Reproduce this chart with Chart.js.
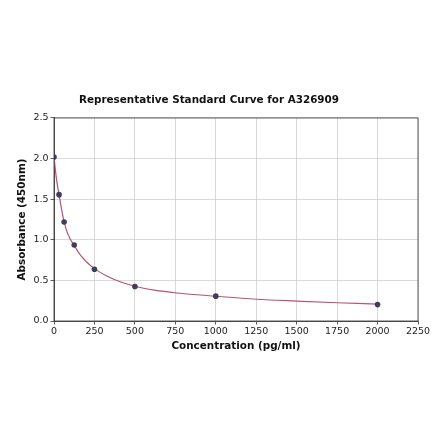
<!DOCTYPE html>
<html><head><meta charset="utf-8">
<script src="https://cdn.jsdelivr.net/npm/chart.js@4"></script>
<style>html,body{margin:0;padding:0;background:#fff}#wrap{width:440px;height:441px}</style>
</head><body><div id="wrap"><canvas id="c"></canvas></div>
<script>
const concentrations = [0, 31.25, 62.5, 125, 250, 500, 1000, 2000];
const absorbance = [2.02, 1.556, 1.22, 0.935, 0.637, 0.424, 0.306, 0.202];
const curveX = [0, 8, 16, 24, 31.25, 42, 52, 62.5, 80, 100, 125, 160, 200, 250, 320, 400, 500, 620, 760, 1000, 1250, 1500, 1750, 2000];
const curveY = [2.02, 1.87, 1.74, 1.64, 1.556, 1.43, 1.32, 1.225, 1.10, 1.01, 0.93, 0.82, 0.73, 0.645, 0.56, 0.49, 0.428, 0.38, 0.345, 0.305, 0.268, 0.245, 0.225, 0.208];
const xTicks = [0, 250, 500, 750, 1000, 1250, 1500, 1750, 2000, 2250];
const yTicks = [0.0, 0.5, 1.0, 1.5, 2.0, 2.5];

const frame = {
  id: 'frame',
  afterDatasetsDraw(chart) {
    const a = chart.chartArea, ctx = chart.ctx;
    ctx.save(); ctx.strokeStyle = '#333'; ctx.lineWidth = 0.8;
    ctx.strokeRect(a.left, a.top, a.right - a.left, a.bottom - a.top);
    ctx.restore();
  }
};
const FONT = 'DejaVu Sans';
new Chart(document.getElementById('c'), {
  type: 'scatter',
  data: {
    datasets: [
      { data: curveX.map((x, i) => ({x, y: curveY[i]})), showLine: true, pointRadius: 0,
        borderColor: '#b5566f', borderWidth: 1.2, cubicInterpolationMode: 'monotone', order: 2 },
      { data: concentrations.map((x, i) => ({x, y: absorbance[i]})), pointRadius: 2.8,
        backgroundColor: '#3d3d5c', borderColor: '#3d3d5c', borderWidth: 0, order: 1 }
    ]
  },
  options: {
    responsive: true, maintainAspectRatio: false, animation: false,
    layout: { padding: { left: 0, right: 22, top: 86, bottom: 88 } },
    plugins: {
      legend: { display: false }, tooltip: { enabled: false },
      title: { display: true, text: 'Representative Standard Curve for A326909', color: '#111',
        font: { family: FONT, size: 10.4, weight: 'bold' }, padding: { top: 8, bottom: 11.5 } }
    },
    scales: {
      x: {
        type: 'linear', min: 0, max: 2250,
        afterBuildTicks: s => { s.ticks = xTicks.map(v => ({value: v})); },
        afterFit: s => { s.height = 32; },
        ticks: { color: '#222', font: { family: FONT, size: 9.5 }, padding: 1, maxRotation: 0, callback: v => String(v) },
        grid: { color: '#d0d0d0', lineWidth: 0.8, tickLength: 3.5, tickColor: '#333' },
        border: { color: '#333', width: 0.8 },
        title: { display: true, text: 'Concentration (pg/ml)', color: '#111', font: { family: FONT, size: 10.4, weight: 'bold' }, padding: { top: 3, bottom: 0 } }
      },
      y: {
        type: 'linear', min: 0, max: 2.5,
        afterBuildTicks: s => { s.ticks = yTicks.map(v => ({value: v})); },
        afterFit: s => { s.width = 54; },
        ticks: { color: '#222', font: { family: FONT, size: 9.5 }, padding: 2, callback: v => v.toFixed(1) },
        grid: { color: '#d0d0d0', lineWidth: 0.8, tickLength: 3.5, tickColor: '#333' },
        border: { color: '#333', width: 0.8 },
        title: { display: true, text: 'Absorbance (450nm)', color: '#111', font: { family: FONT, size: 10.4, weight: 'bold' }, padding: { top: 16, bottom: 0 } }
      }
    }
  },
  plugins: [frame]
});
</script></body></html>
